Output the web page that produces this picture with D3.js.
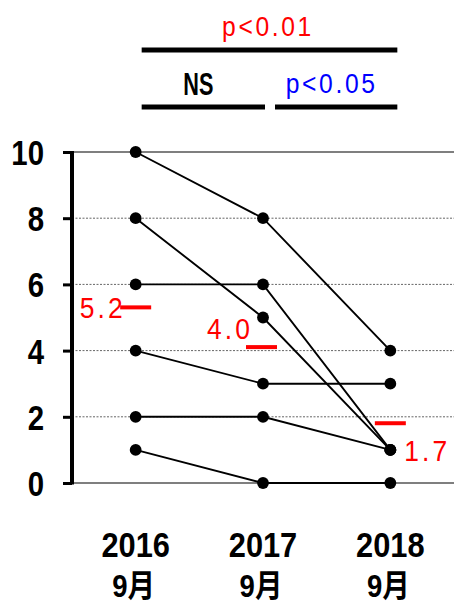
<!DOCTYPE html>
<html><head><meta charset="utf-8">
<script src="https://cdn.jsdelivr.net/npm/d3@7"></script>
<style>
html,body{margin:0;padding:0;background:#fff;}
svg{display:block;}
</style></head>
<body>
<svg id="c" width="454" height="603"></svg>
<script>
// ---- data ----
const categories = ["2016", "2017", "2018"];
const monthLabel = "9月";
const subject1 = [10, 8, 4];
const subject2 = [8, 5, 1];
const subject3 = [6, 6, 1];
const subject4 = [4, 3, 3];
const subject5 = [2, 2, 1];
const subject6 = [1, 0, 0];
const meanValues = [5.2, 4.0, 1.7];
const meanLabels = ["5.2", "4.0", "1.7"];
const yTicks = [0, 2, 4, 6, 8, 10];
const sigLabels = ["p<0.01", "NS", "p<0.05"];

const subjects = [subject1, subject2, subject3, subject4, subject5, subject6];

// ---- layout ----
const W = 454, H = 603;
const FONT = "'Liberation Sans','Arial','Noto Sans CJK JP',sans-serif";
const svg = d3.select("#c");
const x = d3.scalePoint().domain(categories).range([72, 454]).padding(0.5);
const y = d3.scaleLinear().domain([0, 10]).range([483, 152]);

function label(g, px, py, txt, o) {
  return g.append("text")
    .attr("transform", `translate(${px},${py}) scale(${o.sx || 1},1)`)
    .attr("text-anchor", o.anchor || "middle")
    .attr("fill", o.fill || "#000")
    .style("font-family", FONT)
    .style("font-size", o.size + "px")
    .style("font-weight", o.bold ? "bold" : "normal")
    .style("letter-spacing", (o.ls || 0) + "px")
    .text(txt);
}

// gridlines
svg.append("g").selectAll("line").data(yTicks).join("line")
  .attr("x1", 72).attr("x2", W)
  .attr("y1", d => y(d)).attr("y2", d => y(d))
  .attr("stroke", d => (d === 0 || d === 10) ? "#555" : "#666")
  .attr("stroke-width", d => (d === 0 || d === 10) ? 1.6 : 1)
  .attr("stroke-dasharray", d => (d === 0 || d === 10) ? null : "2,1.5");

// axis
const axis = d3.axisLeft(y).tickValues(yTicks).tickSize(9).tickPadding(0).tickFormat(d3.format("d"));
const gAxis = svg.append("g").attr("transform", "translate(72,0)").call(axis);
gAxis.select(".domain").attr("stroke", "#000").attr("stroke-width", 4)
  .attr("d", `M0,${y(10) - 1}V${y(0) + 1.5}`);
gAxis.selectAll(".tick line").attr("stroke", "#000").attr("stroke-width", 3);
gAxis.selectAll(".tick text").attr("fill", "#000").attr("x", 0).attr("dy", null)
  .attr("transform", "translate(-28,12.5) scale(0.84,1)")
  .style("font-family", FONT).style("font-size", "35px").style("font-weight", "bold");

// subject lines
const line = d3.line().x((d, i) => x(categories[i])).y(d => y(d));
svg.append("g").selectAll("path").data(subjects).join("path")
  .attr("d", line).attr("fill", "none").attr("stroke", "#000").attr("stroke-width", 1.9);

// dots
const pts = [];
subjects.forEach(s => s.forEach((v, i) => pts.push({c: categories[i], v})));
svg.append("g").selectAll("circle").data(pts).join("circle")
  .attr("cx", d => x(d.c)).attr("cy", d => y(d.v)).attr("r", 5.9).attr("fill", "#000");

// mean markers
const markDX = [0, -1.5, 0];
const labelPos = [
  {dx: -10, dy: 10.5, anchor: "end"},
  {dx: -10, dy: -8, anchor: "end"},
  {dx: 14, dy: 38, anchor: "start"}
];
const gm = svg.append("g");
meanValues.forEach((m, i) => {
  const cx = x(categories[i]) + markDX[i];
  const my = y(m) - 3.5;
  gm.append("line").attr("x1", cx - 15.5).attr("x2", cx + 15.5).attr("y1", my).attr("y2", my)
    .attr("stroke", "#f00").attr("stroke-width", 4);
  label(gm, x(categories[i]) + labelPos[i].dx, my + labelPos[i].dy, meanLabels[i],
    {anchor: labelPos[i].anchor, fill: "#f00", size: 30, sx: 0.88, ls: 3.5});
});

// x labels
const gx = svg.append("g");
categories.forEach(c => {
  label(gx, x(c), 557, c, {size: 35, bold: true, sx: 0.88});
  label(gx, x(c) - 2, 597, monthLabel, {size: 32, bold: true, sx: 0.86});
});

// significance brackets
const gs = svg.append("g");
const x0 = x(categories[0]), x1 = x(categories[1]), x2 = x(categories[2]);
gs.append("line").attr("x1", x0 + 6).attr("x2", x2 + 7).attr("y1", 50).attr("y2", 50).attr("stroke", "#000").attr("stroke-width", 5);
gs.append("line").attr("x1", x0 + 6).attr("x2", x1 + 2).attr("y1", 107).attr("y2", 107).attr("stroke", "#000").attr("stroke-width", 5);
gs.append("line").attr("x1", x1 + 12).attr("x2", x2 + 7).attr("y1", 107).attr("y2", 107).attr("stroke", "#000").attr("stroke-width", 5);
label(gs, (x0 + x2) / 2 + 5, 36, sigLabels[0], {fill: "#f00", size: 28, sx: 0.88, ls: 3});
label(gs, (x0 + x1) / 2 - 1, 95, sigLabels[1], {size: 31, bold: true, sx: 0.7});
label(gs, (x1 + x2) / 2 + 5, 93, sigLabels[2], {fill: "#00f", size: 28, sx: 0.88, ls: 3});
</script>
</body></html>
